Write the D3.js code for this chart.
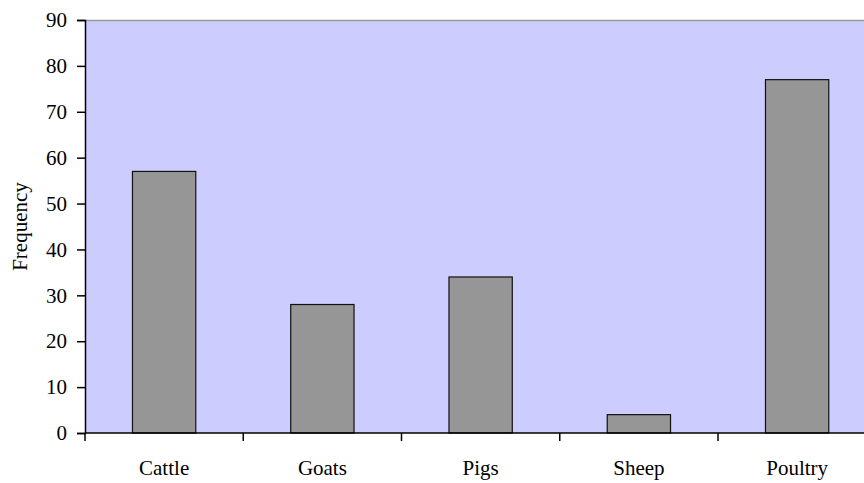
<!DOCTYPE html>
<html>
<head>
<meta charset="utf-8">
<script src="https://cdn.jsdelivr.net/npm/d3@7"></script>
<style>
  html, body { margin: 0; padding: 0; background: #fff; }
  svg { display: block; }
  text { font-family: "Liberation Serif", "Times New Roman", serif; fill: #000; }
</style>
</head>
<body>
<svg id="chart" width="864" height="483"></svg>
<script>
// Livestock kept, by type
const categories = ["Cattle", "Goats", "Pigs", "Sheep", "Poultry"];
const frequency = [57, 28, 34, 4, 77];
const yTicks = [0, 10, 20, 30, 40, 50, 60, 70, 80, 90];

const svg = d3.select("#chart");
const plotLeft = 85, plotTop = 20, plotBottom = 433;
const bandW = 158.25;
const plotRight = plotLeft + bandW * categories.length;
const fontSize = "21px";

const x = d3.scaleBand().domain(categories).range([plotLeft, plotRight]).paddingInner(0.6).paddingOuter(0.3);
const y = d3.scaleLinear().domain([0, 90]).range([plotBottom, plotTop]);

// plot area
svg.append("rect")
  .attr("x", plotLeft).attr("y", plotTop)
  .attr("width", plotRight - plotLeft).attr("height", plotBottom - plotTop)
  .attr("fill", "#ccccff");
svg.append("line")
  .attr("x1", plotLeft).attr("x2", plotRight)
  .attr("y1", plotTop + 0.5).attr("y2", plotTop + 0.5)
  .attr("stroke", "#999999").attr("stroke-width", 1.5);

// bars
svg.append("g").selectAll("rect")
  .data(categories.map((c, i) => ({ c, v: frequency[i] })))
  .join("rect")
  .attr("x", d => x(d.c))
  .attr("y", d => y(d.v))
  .attr("width", x.bandwidth())
  .attr("height", d => y(0) - y(d.v))
  .attr("fill", "#969696")
  .attr("stroke", "#111")
  .attr("stroke-width", 1.2);

// y axis
const yAxis = svg.append("g")
  .attr("transform", `translate(${plotLeft},0)`)
  .call(d3.axisLeft(y).tickValues(yTicks).tickSize(8).tickPadding(10));
yAxis.select(".domain").attr("stroke", "#000").attr("stroke-width", 1.5);
yAxis.selectAll(".tick line").attr("stroke", "#000").attr("stroke-width", 1.5);
yAxis.selectAll(".tick text")
  .style("font-family", '"Liberation Serif", "Times New Roman", serif')
  .style("font-size", fontSize);

// x axis with ticks on category boundaries
svg.append("line")
  .attr("x1", plotLeft).attr("x2", plotRight)
  .attr("y1", plotBottom).attr("y2", plotBottom)
  .attr("stroke", "#000").attr("stroke-width", 1.5);
const bounds = d3.range(categories.length + 1).map(i => plotLeft + i * bandW);
svg.append("g").selectAll("line")
  .data(bounds)
  .join("line")
  .attr("x1", d => d).attr("x2", d => d)
  .attr("y1", plotBottom).attr("y2", plotBottom + 8)
  .attr("stroke", "#000").attr("stroke-width", 1.5);

svg.append("g").selectAll("text")
  .data(categories)
  .join("text")
  .attr("x", d => x(d) + x.bandwidth() / 2)
  .attr("y", 475)
  .attr("text-anchor", "middle")
  .style("font-size", fontSize)
  .text(d => d);

// y axis title
svg.append("text")
  .attr("transform", `translate(27,${(plotTop + plotBottom) / 2}) rotate(-90)`)
  .attr("text-anchor", "middle")
  .style("font-size", fontSize)
  .text("Frequency");
</script>
</body>
</html>
